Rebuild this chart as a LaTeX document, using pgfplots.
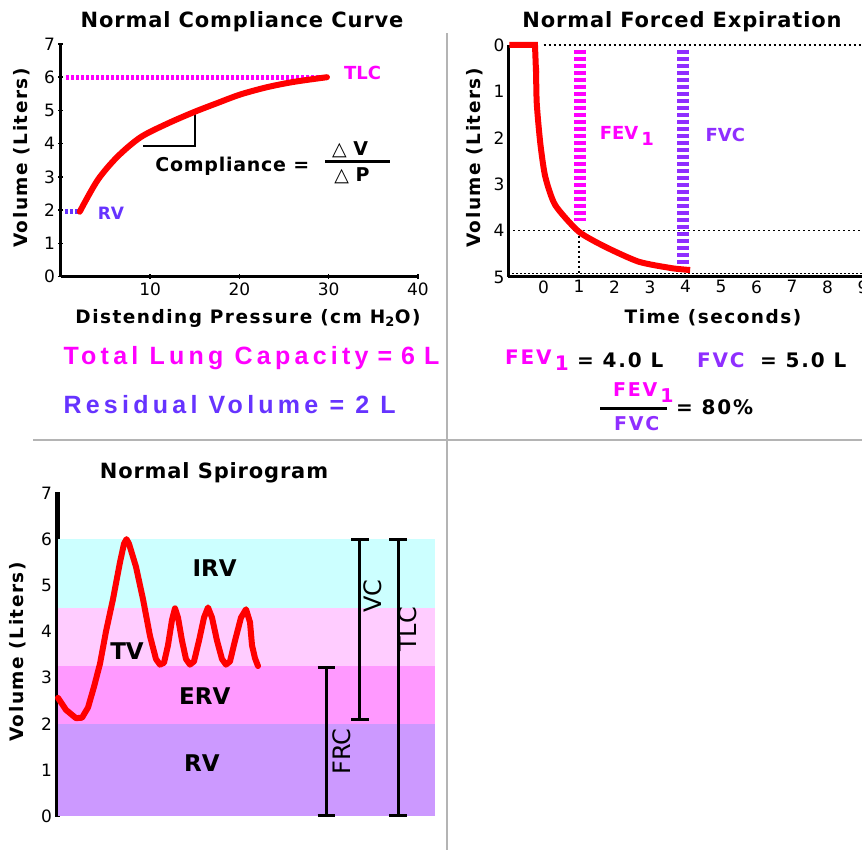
\documentclass[border=0pt]{standalone}
\usepackage{fontspec}
\setmainfont{DejaVu Sans}
\newfontfamily\lib[LetterSpace=17]{Liberation Sans}
\newfontfamily\djt[LetterSpace=4]{DejaVu Sans}
\newfontfamily\djs[LetterSpace=8]{DejaVu Sans}
\newfontfamily\djl[LetterSpace=9]{DejaVu Sans}
\usepackage{pgfplots}
\pgfplotsset{compat=1.18}
\definecolor{mag}{HTML}{FF00FF}
\definecolor{fvcc}{HTML}{8F2EFF}
\definecolor{rvc}{HTML}{6633FF}
\definecolor{irvb}{HTML}{CCFFFF}
\definecolor{tvb}{HTML}{FFCCFF}
\definecolor{ervb}{HTML}{FF99FF}
\definecolor{rvb}{HTML}{CC99FF}
\definecolor{divider}{HTML}{B4B4B4}
\pgfplotsset{
  myax/.style={scale only axis, clip=false,
    /pgf/number format/assume math mode=true,
    ticklabel style={font=\fontsize{17}{17}\selectfont},
    tick style={black,line width=1.5pt}, major tick length=5pt, tick align=outside},
  redline/.style={red, line width=6pt, line join=round, line cap=round, no markers}
}
\newcommand{\ttl}{\djt\bfseries\fontsize{21}{21}\selectfont}
\newcommand{\lbl}{\djs\bfseries\fontsize{18.5}{18.5}\selectfont}
\newcommand{\sub}{\raisebox{-6pt}{1}}
\begin{document}
\begin{tikzpicture}[x=1pt,y=1pt]
\useasboundingbox (0pt,0pt) rectangle (862pt,850pt);
% dividers
\draw[divider, line width=2pt] (447pt,0pt) -- (447pt,817pt);
\draw[divider, line width=2pt] (33pt,410pt) -- (862pt,410pt);

% ---------------- Panel 1: compliance ----------------
\begin{axis}[myax, at={(61pt,573.5pt)}, anchor=south west, width=357pt, height=232.5pt,
  xmin=0, xmax=40, ymin=0, ymax=7, axis lines=left,
  axis line style={-, line width=3pt},
  xtick={10,20,30,40}, ytick={0,1,2,3,4,5,6,7}]
\addplot[mag, line width=5pt, dash pattern=on 2.5pt off 2.5pt] coordinates {(0.6,6) (29.8,6)};
\addplot[rvc, line width=5pt, dash pattern=on 2.5pt off 2.5pt] coordinates {(0.5,1.95) (2,1.95)};
\addplot[black, line width=2pt] coordinates {(9.2,3.93) (15,3.93) (15,4.93)};
\addplot[redline, smooth, tension=0.5] coordinates {(2.1,1.95) (4.1,2.9) (6.3,3.6) (8.9,4.19) (11.9,4.6) (14.9,4.95) (17.5,5.22) (20.1,5.48) (23.1,5.7) (26.1,5.86) (29.8,6.0)};
\node[mag, font=\bfseries\fontsize{18}{18}\selectfont] at (axis cs:33.8,6.12) {TLC};
\node[rvc, font=\bfseries\fontsize{17}{17}\selectfont] at (axis cs:5.6,1.9) {RV};
\node[font=\djt\bfseries\fontsize{19}{19}\selectfont] at (axis cs:19.2,3.32) {Compliance =};
\node[font=\bfseries\fontsize{19}{19}\selectfont] at (axis cs:32.4,3.83) {△ V};
\node[font=\bfseries\fontsize{19}{19}\selectfont] at (axis cs:32.6,3.02) {△ P};
\addplot[black, line width=3pt] coordinates {(29.6,3.45) (36.9,3.45)};
\end{axis}

% ---------------- Panel 2: forced expiration (volume plotted downward as -V) ----------------
\begin{axis}[myax, at={(508pt,573pt)}, anchor=south west, width=355pt, height=232pt,
  xmin=-1, xmax=9, ymin=-5, ymax=0, axis lines=left,
  axis line style={-, line width=3pt}, major tick length=0pt,
  xtick={0,1,2,3,4,5,6,7,8,9}, ytick={-5,-4,-3,-2,-1,0},
  yticklabels={5,4,3,2,1,0}]
\addplot[black, line width=1.5pt, dash pattern=on 2pt off 2pt] coordinates {(-1,-4.93) (9.1,-4.93)};
\addplot[black, line width=1.5pt, dash pattern=on 2pt off 3pt] coordinates {(0,0) (9.1,0)};
\addplot[black, line width=1.5pt, dash pattern=on 2pt off 3pt] coordinates {(-1,-4) (9.1,-4)};
\addplot[black, line width=1.5pt, dash pattern=on 2pt off 3pt] coordinates {(1,-4) (1,-5)};
\addplot[mag, line width=12pt, dash pattern=on 4pt off 3pt] coordinates {(1.04,-0.1) (1.04,-3.8)};
\addplot[fvcc, line width=12pt, dash pattern=on 4pt off 3pt] coordinates {(3.94,-0.1) (3.94,-4.9)};
\addplot[redline, line cap=butt, line join=miter] coordinates {(-0.96,0) (-0.24,0) (-0.21,-0.6)};
\addplot[redline, smooth, tension=0.4, line cap=butt] coordinates {(-0.21,-0.5) (-0.19,-1.26) (-0.09,-2.12) (0.05,-2.84) (0.33,-3.45) (0.99,-4.02) (1.74,-4.35) (2.68,-4.67) (3.61,-4.81) (4.13,-4.85)};
\node[mag, font=\bfseries\fontsize{18}{18}\selectfont] at (axis cs:2.35,-1.97) {FEV\,\sub};
\node[fvcc, font=\bfseries\fontsize{18}{18}\selectfont] at (axis cs:5.12,-1.94) {FVC};
\end{axis}

% ---------------- Panel 3: spirogram ----------------
\begin{axis}[myax, at={(58pt,34pt)}, anchor=south west, width=377pt, height=323pt,
  xmin=0, xmax=377, ymin=0, ymax=7, axis y line=left, axis x line=none,
  axis line style={-,line width=5pt}, xtick=\empty, ytick={0,1,2,3,4,5,6,7}]
\addplot[fill=irvb, draw=none] coordinates {(0,6) (377,6)} \closedcycle;
\addplot[fill=tvb, draw=none] coordinates {(0,4.5) (377,4.5)} \closedcycle;
\addplot[fill=ervb, draw=none] coordinates {(0,3.25) (377,3.25)} \closedcycle;
\addplot[fill=rvb, draw=none] coordinates {(0,2) (377,2)} \closedcycle;
\addplot[redline] coordinates {(0,2.56) (8,2.3) (18,2.12) (24,2.13) (30,2.35) (36,2.8) (42,3.3) (48,4.0) (55,4.7) (62,5.5) (66,5.9) (68.5,6.0) (71,5.9) (78,5.4) (85,4.7) (92,3.9) (98,3.4) (102,3.28) (106,3.32) (110,3.7) (114,4.25) (117,4.5) (120,4.3) (124,3.8) (128,3.4) (132,3.28) (136,3.35) (141,3.8) (146,4.3) (150,4.52) (154,4.3) (159,3.8) (164,3.4) (168,3.28) (172,3.35) (177,3.8) (183,4.3) (188,4.48) (192,4.2) (194,3.7) (197,3.42) (200,3.25)};
% brackets
\addplot[black, line width=3pt] coordinates {(268.3,0) (268.3,3.22)};
\addplot[black, line width=3pt] coordinates {(259.5,0) (277,0)};
\addplot[black, line width=3pt] coordinates {(259.5,3.22) (277,3.22)};
\addplot[black, line width=3pt] coordinates {(301.7,2.1) (301.7,6)};
\addplot[black, line width=3pt] coordinates {(293,2.1) (310.5,2.1)};
\addplot[black, line width=3pt] coordinates {(293,6) (310.5,6)};
\addplot[black, line width=3pt] coordinates {(340,0) (340,6)};
\addplot[black, line width=3pt] coordinates {(331,0) (349,0)};
\addplot[black, line width=3pt] coordinates {(331,6) (349,6)};
\node[font=\bfseries\fontsize{23}{23}\selectfont] at (axis cs:156.7,5.38) {IRV};
\node[font=\bfseries\fontsize{23}{23}\selectfont] at (axis cs:69,3.57) {TV};
\node[font=\bfseries\fontsize{23}{23}\selectfont] at (axis cs:146.7,2.59) {ERV};
\node[font=\bfseries\fontsize{23}{23}\selectfont] at (axis cs:144,1.15) {RV};
\node[rotate=90, font=\fontsize{24}{24}\selectfont] at (axis cs:283.3,1.40) {FRC};
\node[rotate=90, font=\fontsize{24}{24}\selectfont] at (axis cs:315,4.77) {VC};
\node[rotate=90, font=\fontsize{24}{24}\selectfont] at (axis cs:350,4.04) {TLC};
\end{axis}

% titles and labels
\node[font=\ttl] at (242pt,828pt) {Normal Compliance Curve};
\node[font=\ttl] at (682pt,828pt) {Normal Forced Expiration};
\node[font=\ttl] at (214pt,377pt) {Normal Spirogram};
\node[font=\lbl, rotate=90] at (22pt,692pt) {Volume (Liters)};
\node[font=\lbl, rotate=90] at (475pt,692pt) {Volume (Liters)};
\node[font=\lbl, rotate=90] at (18pt,198pt) {Volume (Liters)};
\node[font=\lbl] at (248pt,532pt) {Distending Pressure (cm H\textsubscript{2}O)};
\node[font=\lbl] at (713pt,532pt) {Time (seconds)};

% summary text
\node[anchor=west, mag, font=\lib\bfseries\fontsize{25}{25}\selectfont] at (60pt,492pt) {Total Lung Capacity\hspace{9pt}=\hspace{9pt}6\hspace{9pt}L};
\node[anchor=west, rvc, font=\lib\bfseries\fontsize{25}{25}\selectfont] at (60pt,445pt) {Residual Volume = 2 L};
\node[anchor=west, mag, font=\djl\bfseries\fontsize{20}{20}\selectfont, inner sep=0pt] at (505pt,490pt) {FEV\,\sub};
\node[anchor=west, font=\djl\bfseries\fontsize{20}{20}\selectfont, inner sep=0pt] at (577pt,490pt) {= 4.0 L};
\node[anchor=west, fvcc, font=\djl\bfseries\fontsize{20}{20}\selectfont, inner sep=0pt] at (697pt,490pt) {FVC};
\node[anchor=west, font=\djl\bfseries\fontsize{20}{20}\selectfont, inner sep=0pt] at (760pt,490pt) {= 5.0 L};
\node[anchor=west, mag, font=\djl\bfseries\fontsize{19}{19}\selectfont, inner sep=0pt] at (613pt,457pt) {FEV\,\sub};
\draw[black, line width=3pt] (600pt,441pt) -- (667pt,441pt);
\node[anchor=west, fvcc, font=\djl\bfseries\fontsize{19}{19}\selectfont, inner sep=0pt] at (614pt,426pt) {FVC};
\node[anchor=west, font=\djl\bfseries\fontsize{20}{20}\selectfont, inner sep=0pt] at (676pt,443pt) {= 80\%};
\end{tikzpicture}
\end{document}
